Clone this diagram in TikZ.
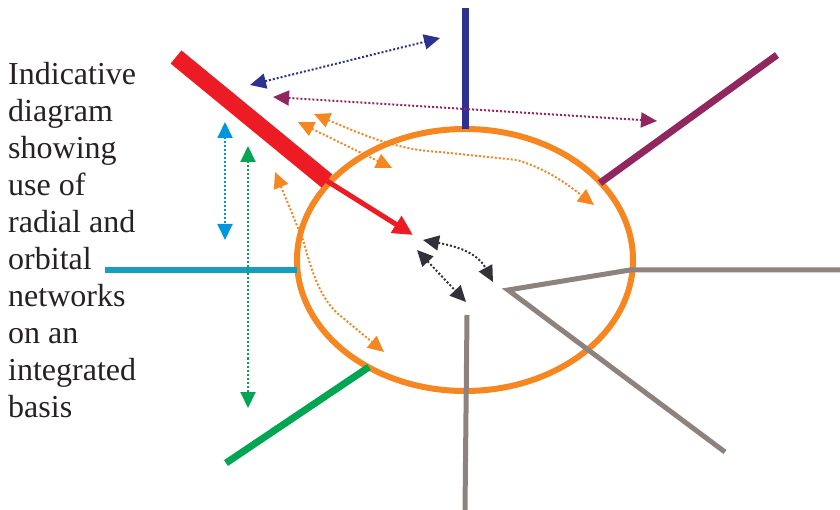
\documentclass[tikz,border=0pt]{standalone}
\usepackage{fontspec}
\setmainfont{Liberation Serif}
\usetikzlibrary{arrows.meta}
\definecolor{orng}{RGB}{246,134,31}
\definecolor{navy}{RGB}{46,49,146}
\definecolor{plum}{RGB}{146,39,95}
\definecolor{rd}{RGB}{237,28,36}
\definecolor{teal}{RGB}{23,157,190}
\definecolor{skyb}{RGB}{0,150,219}
\definecolor{grn}{RGB}{0,166,81}
\definecolor{gry}{RGB}{141,130,126}
\definecolor{blk}{RGB}{50,50,56}
\definecolor{txtc}{RGB}{38,34,35}
\tikzset{
  radial/.style={line width=7pt},
  dotarr/.style={line width=2pt, dash pattern=on 2pt off 2pt,
    {Triangle[length=16pt,width=15pt]}-{Triangle[length=16pt,width=15pt]}},
  lbl/.style={anchor=base west, inner sep=0pt, text=txtc, font=\rmfamily\fontsize{32}{36.9}\selectfont}
}
\begin{document}
\begin{tikzpicture}[x=1pt,y=-1pt]
\useasboundingbox (0,0) rectangle (840,510);
% orbital ring
\draw[orng, line width=6pt] (465,260) ellipse [x radius=168pt, y radius=131pt];
% coordinates
\coordinate (nvT) at (465,8);
\coordinate (nvB) at (465,129);
\coordinate (plA) at (600,183);
\coordinate (plB) at (777,55);
\coordinate (rdA) at (176,57);
\coordinate (rdJ) at (327,181);
\coordinate (rdT) at (413,235);
\coordinate (tlA) at (105,270);
\coordinate (tlB) at (297,270);
\coordinate (gnA) at (226,463);
\coordinate (gnB) at (369,367);
\coordinate (g1A) at (467,315);
\coordinate (g1B) at (465,510);
\coordinate (gC) at (508,290);
\coordinate (gR) at (630,270);
\coordinate (gRR) at (840,270);
\coordinate (gD) at (725,452);
% radial lines
\draw[navy, radial] (nvT) -- (nvB);
\draw[plum, radial] (plA) -- (plB);
\draw[rd, line width=17pt] (rdA) -- (rdJ);
\draw[rd, line width=5pt, -{Triangle[length=20pt,width=19pt]}] (rdJ) -- (rdT);
\draw[teal, line width=6pt] (tlA) -- (tlB);
\draw[grn, radial] (gnA) -- (gnB);
\draw[gry, line width=5pt] (g1A) -- (g1B);
\draw[gry, line width=5pt, line join=miter] (gRR) -- (gR) -- (gC) -- (gD);
% dotted arrows
\coordinate (a1) at (250,85);  \coordinate (a2) at (440,38);
\draw[navy, dotarr] (a1) -- (a2);
\coordinate (b1) at (273,97);  \coordinate (b2) at (657,121);
\draw[plum, dotarr] (b1) -- (b2);
\coordinate (c1) at (225,122); \coordinate (c2) at (225,240);
\draw[skyb, dotarr] (c1) -- (c2);
\coordinate (d1) at (248,146); \coordinate (d2) at (248,408);
\draw[grn, dotarr] (d1) -- (d2);
\coordinate (e1) at (298,122); \coordinate (e2) at (392,168);
\draw[orng, dotarr] (e1) -- (e2);
\coordinate (f1) at (314,114); \coordinate (f2) at (594,205);
\draw[orng, dotarr] (f1) .. controls (370,138) and (400,150) .. (440,152) -- (517,160) .. controls (550,170) and (572,188) .. (f2);
\coordinate (h1) at (275,172); \coordinate (h2) at (384,352);
\draw[orng, dotarr] (h1) -- (303,240) .. controls (310,265) and (318,295) .. (337,313) -- (h2);
\coordinate (k1) at (423,240); \coordinate (k2) at (493,282);
\draw[blk, dotarr] (k1) .. controls (455,246) and (477,252) .. (k2);
\coordinate (m1) at (417,250); \coordinate (m2) at (466,302);
\draw[blk, dotarr] (m1) -- (m2);
% text
\node[lbl] (l1) at (8,85) {Indicative};
\node[lbl] (l2) at (8,121.9) {diagram};
\node[lbl] (l3) at (8,158.8) {showing};
\node[lbl] (l4) at (8,195.7) {use of};
\node[lbl] (l5) at (8,232.6) {radial and};
\node[lbl] (l6) at (8,269.5) {orbital};
\node[lbl] (l7) at (8,306.4) {networks};
\node[lbl] (l8) at (8,343.3) {on an};
\node[lbl] (l9) at (8,380.2) {integrated};
\node[lbl] (l10) at (8,417.1) {basis};
\end{tikzpicture}
\end{document}
